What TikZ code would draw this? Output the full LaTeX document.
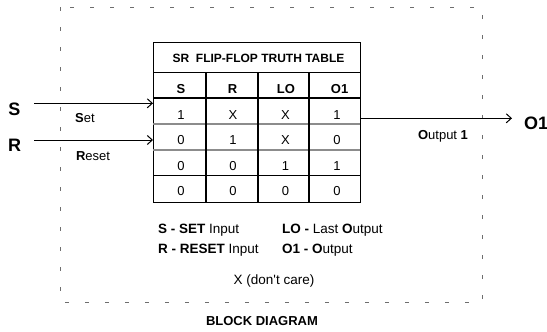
\documentclass[tikz,border=0pt]{standalone}
\usepackage{fontspec}
\setmainfont{Liberation Sans}
\usetikzlibrary{arrows.meta}
\definecolor{RowGray}{HTML}{8C8C8C}
\definecolor{DashGray}{HTML}{6E6E6E}
\newcommand{\pxfont}[1]{\fontsize{#1}{#1}\selectfont}

\begin{document}
\begin{tikzpicture}[x=1pt,y=-1pt,
    txt/.style={inner sep=0pt,anchor=base,font=\pxfont{13}},
    hdr/.style={inner sep=0pt,anchor=base,font=\pxfont{13}\bfseries},
    big/.style={inner sep=0pt,anchor=base,font=\pxfont{18}\bfseries},
    legend/.style={inner sep=0pt,anchor=base west,font=\pxfont{13.5}},
    wire/.style={line width=1pt,-{Straight Barb[length=5pt,width=9pt]}},
    rowsep/.style={line width=2pt,RowGray},
    colsep/.style={line width=2pt,black}
  ]
  \useasboundingbox (0,0) rectangle (547,332);
  % block outline
  \draw[DashGray,line width=1pt,dash pattern=on 4pt off 16pt] (60,7) rectangle (482,302);
  % truth table
  \node[draw,line width=1pt,minimum width=207pt,minimum height=160pt,inner sep=0pt,
    anchor=north west] (tbl) at (153,42) {};
  \draw[line width=0.8pt] (153,72) -- (360,72);
  \draw[colsep] (153,98) -- (360,98);
  \draw[rowsep] (153,124.3) -- (360,124.3);
  \draw[rowsep] (153,150) -- (360,150);
  \draw[line width=1pt] (153,175.7) -- (361,175.7);
  \draw[colsep] (205.5,72) -- (205.5,202);
  \draw[colsep] (257.5,72) -- (257.5,202);
  \draw[colsep] (309,72) -- (309,202);
  \node[inner sep=0pt,anchor=base,font=\pxfont{12}\bfseries] (title) at (258.5,63)
    {SR\ \ FLIP-FLOP TRUTH TABLE};
  \node[hdr] (hS) at (181,93) {S};
  \node[hdr] (hR) at (232.6,93) {R};
  \node[hdr] (hLO) at (286,93) {LO};
  \node[hdr] (hO) at (339.6,93) {O1};
  \node[txt] (s1) at (181,119) {1};
  \node[txt] (r1) at (233,119) {X};
  \node[txt] (lo1) at (285.5,119) {X};
  \node[txt] (o1) at (337,119) {1};
  \node[txt] (s2) at (181,144.7) {0};
  \node[txt] (r2) at (233,144.7) {1};
  \node[txt] (lo2) at (285.5,144.7) {X};
  \node[txt] (o2) at (337,144.7) {0};
  \node[txt] (s3) at (181,170) {0};
  \node[txt] (r3) at (233,170) {0};
  \node[txt] (lo3) at (285.5,170) {1};
  \node[txt] (o3) at (337,170) {1};
  \node[txt] (s4) at (181,195.7) {0};
  \node[txt] (r4) at (233,195.7) {0};
  \node[txt] (lo4) at (285.5,195.7) {0};
  \node[txt] (o4) at (337,195.7) {0};
  % inputs and output
  \node[big] (sLbl) at (14.5,115) {S};
  \node[big] (rLbl) at (14.5,151.4) {R};
  \node[big,anchor=base west] (oLbl) at (524,129.7) {O1};
  \coordinate (sFrom) at (34,103.3);
  \coordinate (rFrom) at (34,140);
  \coordinate (oTo) at (512,118.3);
  \draw[wire] (sFrom) -- (sFrom -| tbl.west);
  \draw[wire] (rFrom) -- (rFrom -| tbl.west);
  \draw[wire] (oTo -| tbl.east) -- (oTo);
  \node[txt] (setTxt) at (85,122.7) {\textbf{S}et};
  \node[txt] (resetTxt) at (93,160.2) {\textbf{R}eset};
  \node[txt] (outTxt) at (443,139.7) {\textbf{O}utput \textbf{1}};
  % legend
  \node[legend] (legS) at (158,233) {\textbf{S - SET} Input};
  \node[legend] (legR) at (158,253) {\textbf{R - RESET} Input};
  \node[legend] (legLO) at (282,233) {\textbf{LO -} Last \textbf{O}utput};
  \node[legend] (legO) at (282,253) {\textbf{O1 - O}utput};
  \node[txt,font=\pxfont{13.5}] (dontCare) at (274,284) {X (don\textquotesingle t care)};
  \node[hdr] (caption) at (262,325.7) {BLOCK DIAGRAM};
\end{tikzpicture}
\end{document}
